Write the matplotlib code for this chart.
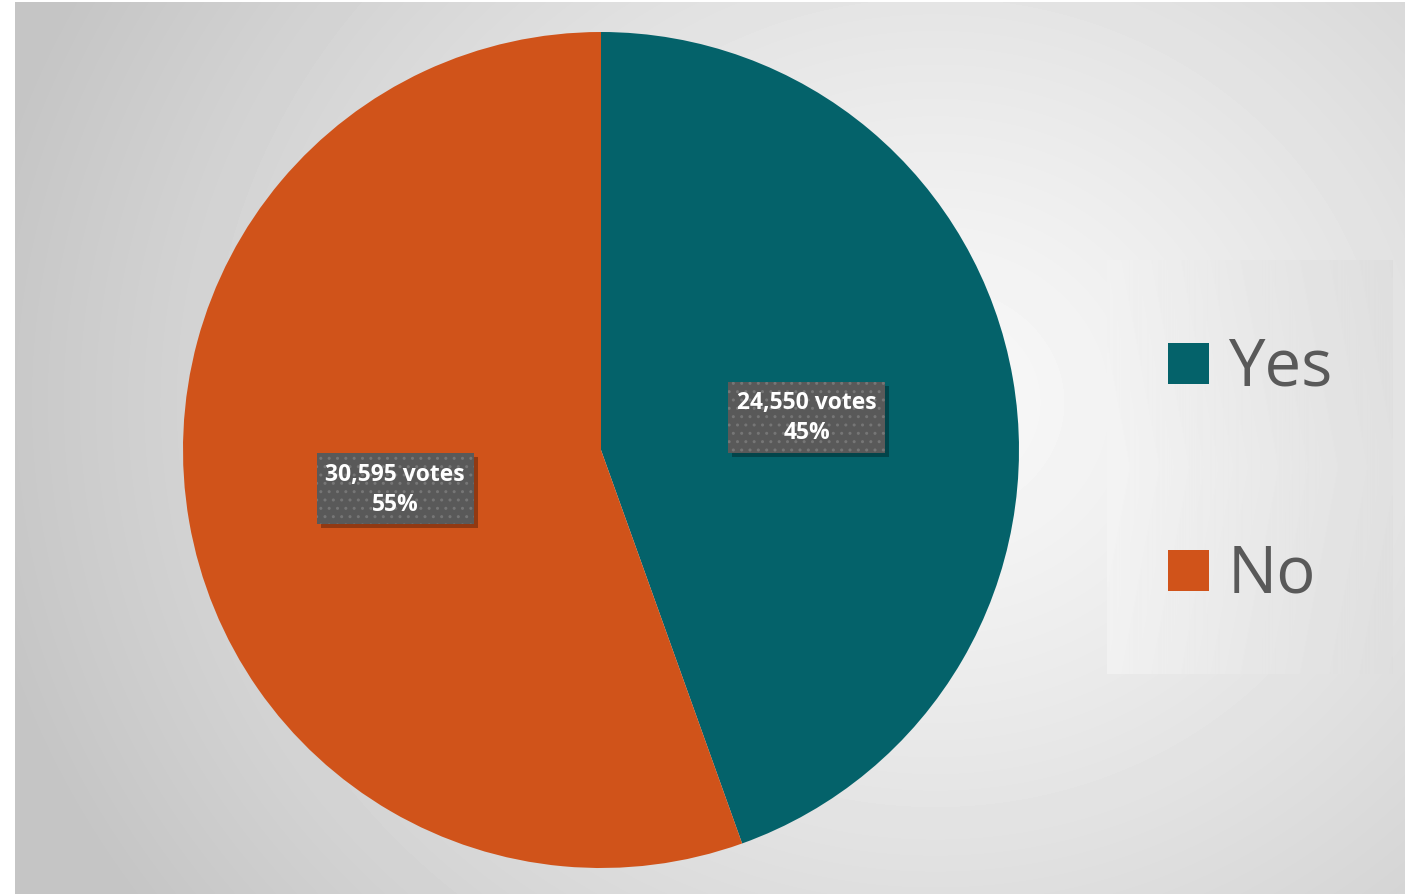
import numpy as np
import matplotlib.pyplot as plt
from matplotlib.patches import Rectangle
from matplotlib import font_manager

categories = ['Yes', 'No']
votes = [24550, 30595]
colors = ['#04626A', '#D0531A']

W, H = 1412, 895
fig = plt.figure(figsize=(W / 100, H / 100), dpi=100)
fig.patch.set_facecolor('white')

# chart area with a soft radial gradient
bg = fig.add_axes([15 / W, 0, 1390 / W, 892 / H])
yy, xx = np.mgrid[0:892, 0:1390]
d = np.hypot(xx - 920, (yy - 400) / 0.9)
shade = np.clip(d / 980, 0, 1) ** 1.2
img = 0.975 - shade * (0.975 - 0.77)
bg.imshow(img, cmap='gray', vmin=0, vmax=1, aspect='auto', interpolation='bilinear')
bg.set_axis_off()

# legend panel
leg = fig.add_axes([1107 / W, 1 - 675 / H, 285 / W, 414 / H])
ly, lx = np.mgrid[0:414, 0:285]
limg = 0.955 - 0.075 * (lx / 285) - 0.01 * np.abs(ly - 207) / 207
leg.imshow(limg, cmap='gray', vmin=0, vmax=1, aspect='auto')
leg.set_axis_off()

ax = fig.add_axes([0, 0, 1, 1])
ax.patch.set_alpha(0)

names = {f.name for f in font_manager.fontManager.ttflist}
bold_font = 'Open Sans' if 'Open Sans' in names else 'DejaVu Sans'

total = sum(votes)
labels = [f'{v:,} votes\n{round(100 * v / total)}%' for v in votes]

wedges, texts = ax.pie(votes, colors=colors, startangle=90, counterclock=False,
                       radius=418, center=(601, H - 451), labels=labels,
                       labeldistance=0.5, frame=True,
                       wedgeprops=dict(linewidth=0),
                       textprops=dict(color='white', fontsize=16.5, fontweight='bold',
                                      family=[bold_font, 'DejaVu Sans'],
                                      ha='center', va='center', linespacing=1.3))
ax.set_xlim(0, W)
ax.set_ylim(0, H)
ax.set_axis_off()

for t in texts:
    x, y = t.get_position()
    t.set_position((x, y - 3))
    t.set_bbox(dict(boxstyle='square,pad=0.38', facecolor='#595959',
                    edgecolor='#767676', linewidth=0, hatch='..'))

# drop shadows behind the label boxes
fig.canvas.draw()
inv = ax.transData.inverted()
for t in texts:
    ext = t.get_bbox_patch().get_window_extent()
    (x0, y0), (x1, y1) = inv.transform([(ext.x0 + 4, ext.y0 - 4), (ext.x1 + 4, ext.y1 - 4)])
    ax.add_patch(Rectangle((x0, y0), x1 - x0, y1 - y0, facecolor='black', alpha=0.3,
                           edgecolor='none', zorder=t.get_zorder() - 0.1))

# legend entries
for i, (name, c) in enumerate(zip(categories, colors)):
    y = H - (364.5 + i * 207)
    ax.add_patch(Rectangle((1168, y - 20.5), 41, 41, facecolor=c, edgecolor='none'))
    ax.text(1228, y - 4, name, fontsize=47, color='#595959', va='center', ha='left',
            family=['Open Sans', 'DejaVu Sans'])

fig.savefig('out.png', dpi=100)
